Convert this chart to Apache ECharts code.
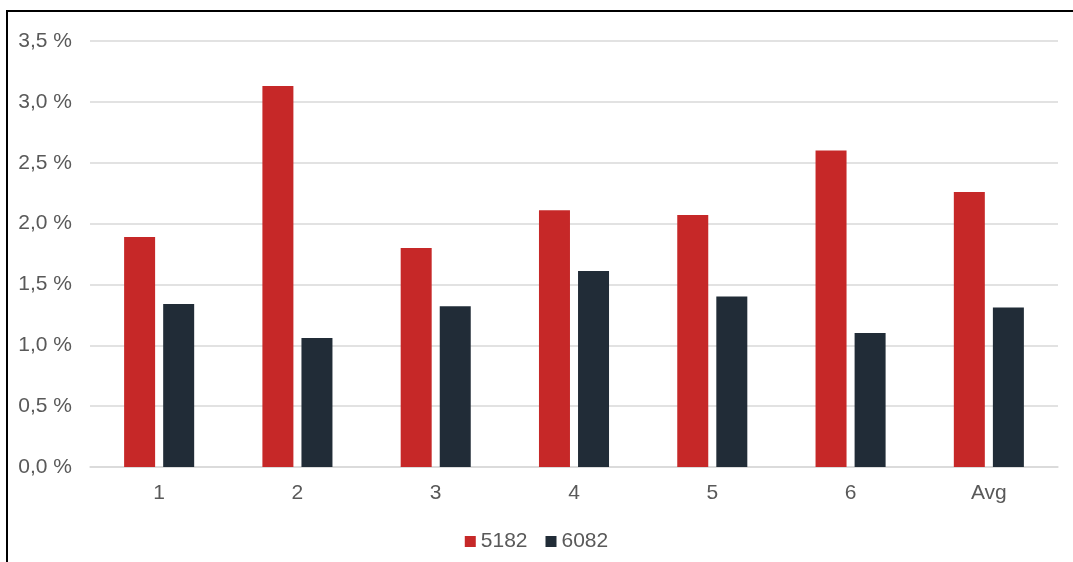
<!DOCTYPE html>
<html>
<head>
<meta charset="utf-8">
<script src="https://cdn.jsdelivr.net/npm/echarts@6/dist/echarts.min.js"></script>
<style>
html,body{margin:0;padding:0;background:#fff;}
#chart{width:1073px;height:562px;}
</style>
</head>
<body>
<div id="chart"></div>
<script>
const categories = ['1', '2', '3', '4', '5', '6', 'Avg'];
const series5182 = [1.89, 3.13, 1.80, 2.11, 2.07, 2.60, 2.26];
const series6082 = [1.34, 1.06, 1.32, 1.61, 1.40, 1.10, 1.31];
const seriesNames = ['5182', '6082'];

const chart = echarts.init(document.getElementById('chart'));
const font = 'Liberation Sans, Arial, sans-serif';
chart.setOption({
  animation: false,
  backgroundColor: '#ffffff',
  graphic: [{
    type: 'rect',
    shape: { x: 7, y: 11, width: 1100, height: 600 },
    style: { fill: 'none', stroke: '#000000', lineWidth: 2 },
    silent: true
  }],
  grid: { left: 90, right: 15, top: 41, bottom: 95, containLabel: false },
  legend: {
    bottom: 5,
    left: 'center',
    itemWidth: 11,
    itemHeight: 11,
    itemGap: 18,
    icon: 'rect',
    textStyle: { color: '#595959', fontSize: 21, fontFamily: font },
    data: seriesNames
  },
  xAxis: {
    type: 'category',
    data: categories,
    axisLine: { show: true, lineStyle: { color: '#d9d9d9', width: 1.5 } },
    axisTick: { show: false },
    axisLabel: { color: '#595959', fontSize: 21, fontFamily: font, margin: 16 }
  },
  yAxis: {
    type: 'value',
    min: 0,
    max: 3.5,
    interval: 0.5,
    axisLine: { show: false },
    axisTick: { show: false },
    splitLine: { lineStyle: { color: '#d9d9d9', width: 1.5 } },
    axisLabel: {
      color: '#595959', fontSize: 21, fontFamily: font, margin: 18,
      formatter: v => v.toFixed(1).replace('.', ',') + ' %'
    }
  },
  series: [
    { name: seriesNames[0], type: 'bar', data: series5182, barWidth: 31, barGap: '26%', itemStyle: { color: '#c62828' } },
    { name: seriesNames[1], type: 'bar', data: series6082, barWidth: 31, itemStyle: { color: '#212c37' } }
  ]
});
</script>
</body>
</html>
